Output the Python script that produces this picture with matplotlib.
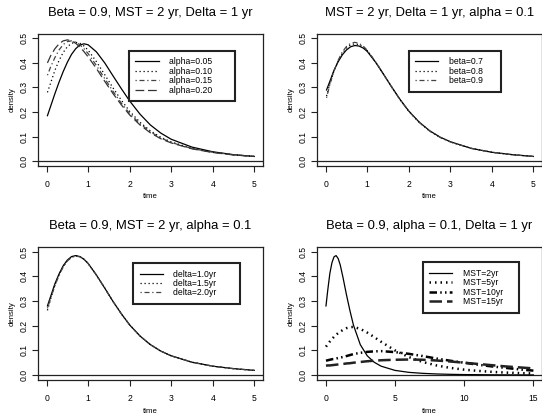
import matplotlib
matplotlib.use("Agg")
import matplotlib.pyplot as plt

plt.rcParams['font.family'] = ['Liberation Sans', 'DejaVu Sans']

# ---------------- data ----------------
t_short = [0.02, 0.1, 0.2, 0.3, 0.4, 0.5, 0.6, 0.7, 0.8, 0.9, 1.0, 1.2, 1.4,
           1.6, 1.8, 2.0, 2.25, 2.5, 2.75, 3.0, 3.5, 4.0, 4.5, 5.0]

# Panel 1: alpha
alpha_labels = ["alpha=0.05", "alpha=0.10", "alpha=0.15", "alpha=0.20"]
alpha_005 = [0.185, 0.225, 0.275, 0.322, 0.365, 0.403, 0.435, 0.458, 0.473, 0.478,
             0.474, 0.445, 0.400, 0.347, 0.295, 0.245, 0.191, 0.147, 0.114, 0.089,
             0.057, 0.038, 0.026, 0.019]
alpha_010 = [0.28, 0.32, 0.37, 0.41, 0.443, 0.466, 0.480, 0.484, 0.480, 0.469,
             0.452, 0.405, 0.352, 0.298, 0.248, 0.203, 0.158, 0.123, 0.097, 0.078,
             0.052, 0.036, 0.026, 0.019]
alpha_015 = [0.35, 0.385, 0.422, 0.453, 0.475, 0.487, 0.490, 0.485, 0.474, 0.458,
             0.438, 0.389, 0.336, 0.284, 0.236, 0.194, 0.152, 0.119, 0.094, 0.076,
             0.051, 0.036, 0.026, 0.019]
alpha_020 = [0.40, 0.43, 0.458, 0.478, 0.490, 0.494, 0.490, 0.480, 0.465, 0.446,
             0.425, 0.377, 0.325, 0.275, 0.229, 0.188, 0.147, 0.115, 0.091, 0.074,
             0.050, 0.035, 0.025, 0.019]

# Panel 2: beta
beta_labels = ["beta=0.7", "beta=0.8", "beta=0.9"]
beta_07 = [0.29, 0.325, 0.370, 0.405, 0.433, 0.453, 0.466, 0.471, 0.469, 0.461,
           0.447, 0.403, 0.352, 0.299, 0.249, 0.204, 0.159, 0.124, 0.098, 0.079,
           0.052, 0.036, 0.026, 0.019]
beta_08 = [0.265, 0.315, 0.368, 0.408, 0.440, 0.461, 0.474, 0.478, 0.475, 0.465,
           0.450, 0.404, 0.352, 0.299, 0.248, 0.203, 0.158, 0.123, 0.097, 0.078,
           0.052, 0.036, 0.026, 0.019]
beta_09 = [0.258, 0.312, 0.368, 0.411, 0.445, 0.467, 0.480, 0.484, 0.480, 0.469,
           0.452, 0.405, 0.352, 0.298, 0.248, 0.203, 0.158, 0.123, 0.097, 0.078,
           0.052, 0.036, 0.026, 0.019]

# Panel 3: delta
delta_labels = ["delta=1.0yr", "delta=1.5yr", "delta=2.0yr"]
delta_10 = [0.28, 0.32, 0.37, 0.41, 0.443, 0.466, 0.480, 0.484, 0.480, 0.469,
            0.452, 0.405, 0.352, 0.298, 0.248, 0.203, 0.158, 0.123, 0.097, 0.078,
            0.052, 0.036, 0.026, 0.019]
delta_15 = [0.262, 0.310, 0.364, 0.406, 0.440, 0.463, 0.478, 0.483, 0.480, 0.469,
            0.452, 0.405, 0.352, 0.298, 0.248, 0.203, 0.158, 0.123, 0.097, 0.078,
            0.052, 0.036, 0.026, 0.019]
delta_20 = [0.270, 0.312, 0.362, 0.404, 0.438, 0.462, 0.477, 0.482, 0.479, 0.469,
            0.452, 0.405, 0.352, 0.298, 0.248, 0.203, 0.158, 0.123, 0.097, 0.078,
            0.052, 0.036, 0.026, 0.019]

# Panel 4: MST
t_long = [0.02, 0.15, 0.3, 0.45, 0.6, 0.75, 0.9, 1.05, 1.25, 1.5, 1.75, 2.0,
          2.5, 3.0, 3.5, 4.0, 5.0, 6.0, 7.0, 8.0, 9.0, 10.0, 11.0, 12.0, 13.0,
          14.0, 15.0]
mst_labels = ["MST=2yr", "MST=5yr", "MST=10yr", "MST=15yr"]
mst_2 = [0.28, 0.345, 0.412, 0.455, 0.479, 0.484, 0.472, 0.446, 0.395, 0.325,
         0.261, 0.203, 0.123, 0.078, 0.052, 0.036, 0.019, 0.011, 0.007, 0.0045,
         0.003, 0.002, 0.0015, 0.001, 0.0008, 0.0006, 0.0005]
mst_5 = [0.115, 0.125, 0.136, 0.146, 0.155, 0.163, 0.170, 0.176, 0.183, 0.190,
         0.194, 0.195, 0.187, 0.172, 0.154, 0.135, 0.100, 0.073, 0.053, 0.039,
         0.029, 0.022, 0.017, 0.013, 0.010, 0.008, 0.0065]
mst_10 = [0.058, 0.060, 0.062, 0.064, 0.065, 0.067, 0.069, 0.071, 0.073, 0.077,
          0.081, 0.085, 0.090, 0.094, 0.096, 0.097, 0.093, 0.086, 0.077, 0.067,
          0.058, 0.050, 0.042, 0.035, 0.029, 0.023, 0.018]
mst_15 = [0.038, 0.039, 0.039, 0.040, 0.041, 0.042, 0.043, 0.044, 0.045, 0.047,
          0.048, 0.050, 0.053, 0.056, 0.058, 0.060, 0.062, 0.063, 0.062, 0.059,
          0.055, 0.050, 0.045, 0.040, 0.035, 0.031, 0.027]

titles = ["Beta = 0.9, MST = 2 yr, Delta = 1 yr",
          "MST = 2 yr, Delta = 1 yr, alpha = 0.1",
          "Beta = 0.9, MST = 2 yr, alpha = 0.1",
          "Beta = 0.9, alpha = 0.1, Delta = 1 yr"]
yticks = [0.0, 0.1, 0.2, 0.3, 0.4, 0.5]
ytick_labels = ["0.0", "0.1", "0.2", "0.3", "0.4", "0.5"]
xticks_short = [0, 1, 2, 3, 4, 5]
xticks_long = [0, 5, 10, 15]

# ---------------- figure ----------------
W, H = 542, 416
fig = plt.figure(figsize=(W / 100, H / 100), dpi=100)

def px_axes(left, top, right, bottom):
    return fig.add_axes([left / W, 1 - bottom / H, (right - left) / W, (bottom - top) / H])

axes = [px_axes(38.3, 33.5, 262.6, 166.0),
        px_axes(317.4, 33.5, 541.7, 166.0),
        px_axes(38.3, 246.7, 262.6, 380.0),
        px_axes(317.4, 246.7, 541.7, 380.0)]

SOLID = dict(color="black", lw=0.9, linestyle="-")
DOT = dict(color="black", lw=0.9, linestyle=(0, (1, 2.2)))
DOTDASH = dict(color="#444444", lw=0.9, linestyle=(0, (1, 2.2, 4, 2.2)))
LONGDASH = dict(color="#333333", lw=0.9, linestyle=(0, (7, 3)))

def style_axes(ax, xticks, xmax, title, legend_xy):
    ax.set_xlim(-0.04 * xmax, 1.04 * xmax)
    ax.set_ylim(-0.02, 0.52)
    ax.axhline(0, color="#222222", lw=0.9, zorder=1)
    ax.set_xticks(xticks)
    ax.set_xticklabels([str(v) for v in xticks])
    ax.set_yticks(yticks)
    ax.set_yticklabels(ytick_labels, rotation=90, va="center")
    ax.tick_params(axis="both", direction="out", length=4, width=0.8,
                   labelsize=6.2, color="#222222")
    ax.tick_params(axis="x", pad=6)
    ax.tick_params(axis="y", pad=3)
    for s in ax.spines.values():
        s.set_linewidth(0.9)
        s.set_color("#222222")
    ax.set_xlabel("time", fontsize=5.6, va="center")
    ax.xaxis.set_label_coords(0.5, -31 / 133)
    ax.set_ylabel("density", fontsize=5.6, va="center")
    ax.yaxis.set_label_coords(-26 / 224, 0.5)
    ax.text(0.5, 1 + 20.5 / 133, title, transform=ax.transAxes,
            ha="center", va="center", fontsize=9.4)
    leg = ax.legend(loc="upper left", bbox_to_anchor=legend_xy, borderaxespad=0,
                    fontsize=6.2, frameon=True, fancybox=False, labelspacing=0.05,
                    handlelength=2.7, handletextpad=1.2, borderpad=0.75)
    fr = leg.get_frame()
    fr.set_edgecolor("#222222")
    fr.set_linewidth(1.5)
    fr.set_facecolor("white")
    fr.set_alpha(None)

ax = axes[0]
for y, lab, st in zip([alpha_005, alpha_010, alpha_015, alpha_020], alpha_labels,
                      [SOLID, DOT, DOTDASH, LONGDASH]):
    ax.plot(t_short, y, label=lab + "       ", **st)
style_axes(ax, xticks_short, 5, titles[0], (0.404, 0.868))

ax = axes[1]
for y, lab, st in zip([beta_07, beta_08, beta_09], beta_labels, [SOLID, DOT, DOTDASH]):
    ax.plot(t_short, y, label=lab + "     ", **st)
style_axes(ax, xticks_short, 5, titles[1], (0.407, 0.868))

ax = axes[2]
for y, lab, st in zip([delta_10, delta_15, delta_20], delta_labels, [SOLID, DOT, DOTDASH]):
    ax.plot(t_short, y, label=lab + "       ", **st)
style_axes(ax, xticks_short, 5, titles[2], (0.4235, 0.877))

ax = axes[3]
THICK_DOT = dict(color="black", lw=1.8, linestyle=(0, (0.6, 1.6)))
THICK_DOTDASH = dict(color="black", lw=1.8, linestyle=(0, (3, 1.3, 0.6, 1.3, 0.6, 1.3)))
THICK_DASH = dict(color="#222222", lw=1.8, linestyle=(0, (5, 2)))
for y, lab, st in zip([mst_2, mst_5, mst_10, mst_15], mst_labels,
                      [SOLID, THICK_DOT, THICK_DOTDASH, THICK_DASH]):
    ax.plot(t_long, y, label=lab + "    ", **st)
style_axes(ax, xticks_long, 15, titles[3], (0.469, 0.883))

fig.savefig("out.png", dpi=100)
